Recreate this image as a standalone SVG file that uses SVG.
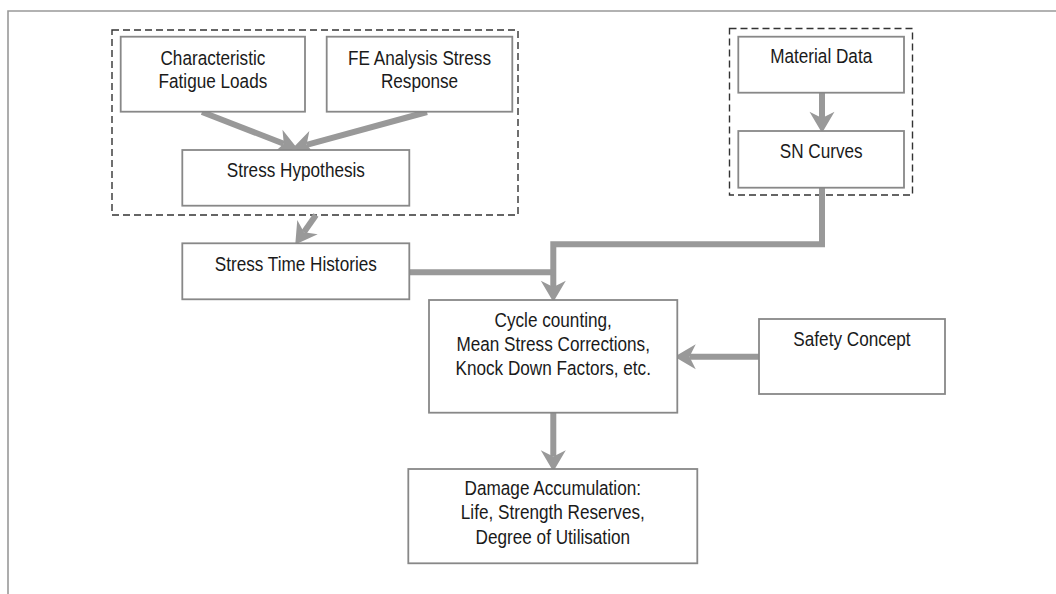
<svg xmlns="http://www.w3.org/2000/svg" width="1056" height="594" viewBox="0 0 1056 594">
<style>
.box{fill:#fff;stroke:#888;stroke-width:1.8}
.grp{fill:none;stroke:#333;stroke-width:1.4;stroke-dasharray:7 4}
.lbl{font-family:"Liberation Sans",Arial,sans-serif;font-size:19.5px;fill:#1a1a1a;text-anchor:middle}
.con{fill:none;stroke:#999;stroke-width:6}
.frame{fill:none;stroke:#999;stroke-width:1.6}
</style>
<defs>
<marker id="ah" markerUnits="userSpaceOnUse" markerWidth="30" markerHeight="30" viewBox="-6 -12 20 24" refX="0" refY="0" orient="auto" overflow="visible">
<path d="M12,0 L-5,-10 L0,0 L-5,10 Z" fill="#999"/>
</marker>
</defs>
<rect width="1056" height="594" fill="#fff"/>
<path class="frame" d="M8,594 V11 H1056"/>
<rect id="group-loads" class="grp" x="112" y="30" width="406" height="185"/>
<rect id="group-material" class="grp" x="729.5" y="28.5" width="183" height="166.5"/>
<g id="connectors">
<line class="con" x1="202" y1="112" x2="283.8" y2="143.7" marker-end="url(#ah)"/>
<line class="con" x1="427" y1="112" x2="306.6" y2="144.8" marker-end="url(#ah)"/>
<line class="con" x1="316" y1="215" x2="303.9" y2="232.2" marker-end="url(#ah)"/>
<line class="con" x1="822" y1="93" x2="822" y2="118" marker-end="url(#ah)"/>
<path class="con" d="M822,188 V244.3 H553.3 V287" marker-end="url(#ah)"/>
<path class="con" d="M409,272.3 H553.3"/>
<line class="con" x1="759" y1="356.7" x2="689.5" y2="356.7" marker-end="url(#ah)"/>
<line class="con" x1="553.3" y1="413" x2="553.3" y2="456.5" marker-end="url(#ah)"/>
</g>
<g id="n-char">
<rect class="box" x="120.7" y="36.7" width="184.3" height="75"/>
<text class="lbl" transform="translate(212.9 0) scale(0.88 1)"><tspan x="0" y="65">Characteristic</tspan><tspan x="0" y="88.5">Fatigue Loads</tspan></text>
</g>
<g id="n-fe">
<rect class="box" x="326.7" y="36.7" width="185.6" height="75"/>
<text class="lbl" transform="translate(419.5 0) scale(0.88 1)"><tspan x="0" y="65">FE Analysis Stress</tspan><tspan x="0" y="88.5">Response</tspan></text>
</g>
<g id="n-hyp">
<rect class="box" x="182.3" y="150" width="227" height="55.7"/>
<text class="lbl" transform="translate(295.8 0) scale(0.88 1)" x="0" y="177.3">Stress Hypothesis</text>
</g>
<g id="n-sth">
<rect class="box" x="182.3" y="243.3" width="227" height="56"/>
<text class="lbl" transform="translate(295.8 0) scale(0.88 1)" x="0" y="270.7">Stress Time Histories</text>
</g>
<g id="n-mat">
<rect class="box" x="738.3" y="36.7" width="165.7" height="56"/>
<text class="lbl" transform="translate(821.2 0) scale(0.88 1)" x="0" y="63.3">Material Data</text>
</g>
<g id="n-sn">
<rect class="box" x="738.3" y="131" width="165.7" height="56.7"/>
<text class="lbl" transform="translate(821.2 0) scale(0.88 1)" x="0" y="157.7">SN Curves</text>
</g>
<g id="n-cycle">
<rect class="box" x="429" y="300" width="248.3" height="112.7"/>
<text class="lbl" transform="translate(553.2 0) scale(0.88 1)"><tspan x="0" y="326.7">Cycle counting,</tspan><tspan x="0" y="350.7">Mean Stress Corrections,</tspan><tspan x="0" y="375">Knock Down Factors, etc.</tspan></text>
</g>
<g id="n-safety">
<rect class="box" x="759" y="319" width="186" height="75"/>
<text class="lbl" transform="translate(852 0) scale(0.88 1)" x="0" y="345.7">Safety Concept</text>
</g>
<g id="n-damage">
<rect class="box" x="408.3" y="469" width="289" height="94.3"/>
<text class="lbl" transform="translate(552.8 0) scale(0.88 1)"><tspan x="0" y="495">Damage Accumulation:</tspan><tspan x="0" y="519.3">Life, Strength Reserves,</tspan><tspan x="0" y="544">Degree of Utilisation</tspan></text>
</g>
</svg>
